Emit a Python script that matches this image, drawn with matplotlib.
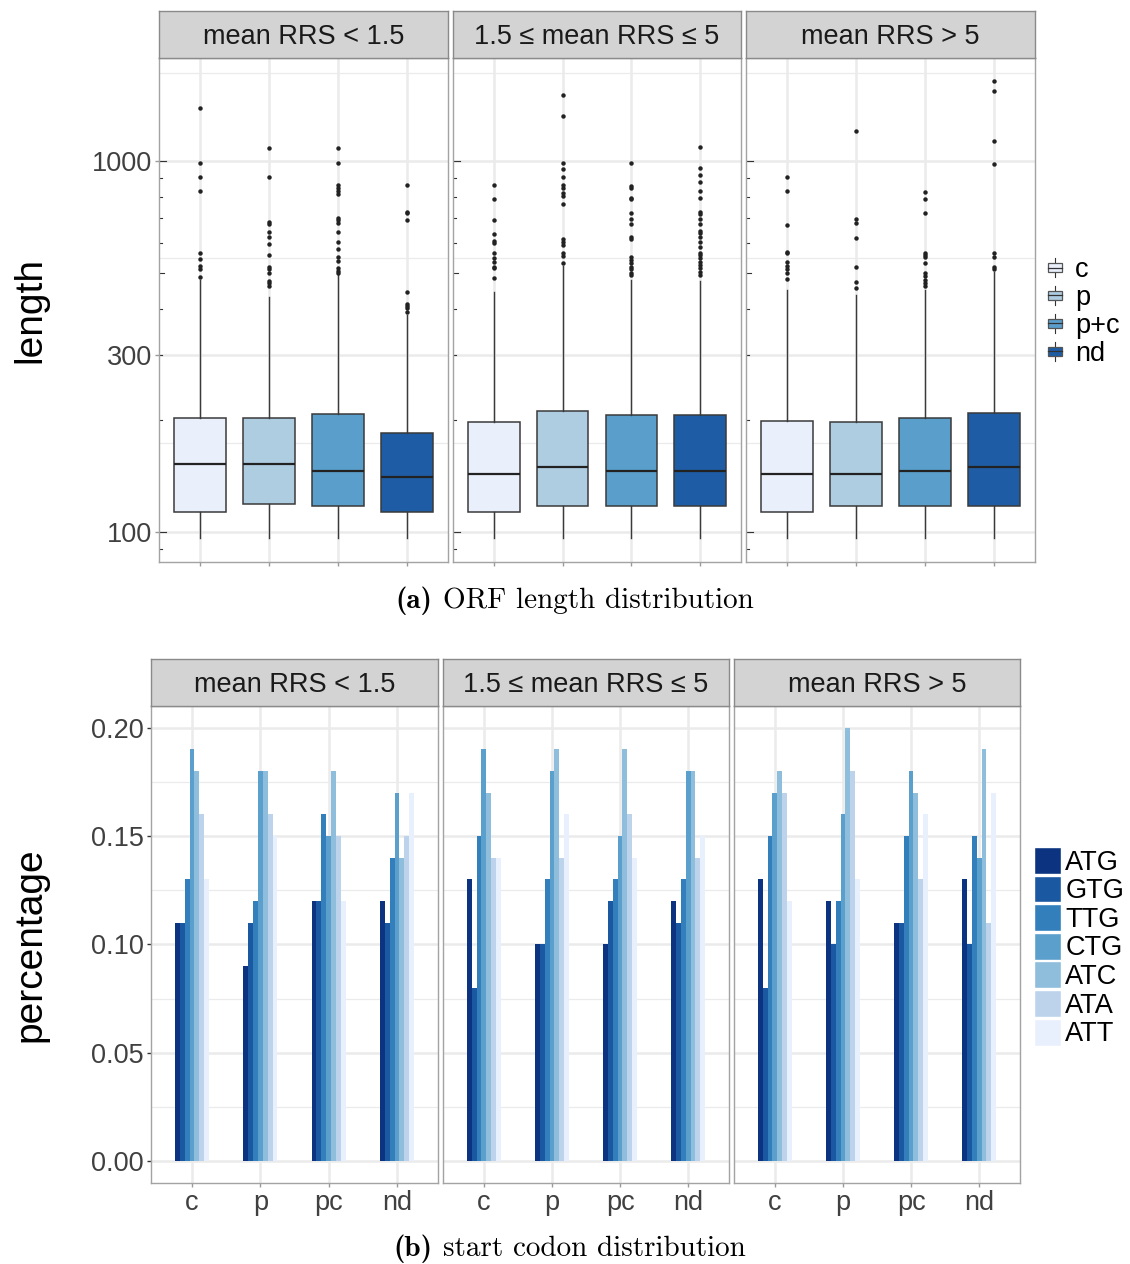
import numpy as np
import matplotlib
matplotlib.use("Agg")
import matplotlib.pyplot as plt
from matplotlib.patches import Rectangle, Patch
from matplotlib.lines import Line2D
from matplotlib.legend_handler import HandlerBase
from matplotlib.ticker import FixedLocator, NullFormatter

plt.rcParams['font.family'] = ['Liberation Sans', 'DejaVu Sans']

# facets and categories
rrs_groups = ['mean RRS < 1.5', '1.5 ≤ mean RRS ≤ 5', 'mean RRS > 5']
orf_types = ['c', 'p', 'p+c', 'nd']
orf_ticks = ['c', 'p', 'pc', 'nd']
codons = ['ATG', 'GTG', 'TTG', 'CTG', 'ATC', 'ATA', 'ATT']

# ORF length box statistics, one row per RRS group, one entry per ORF type
len_q1 = [[113, 119, 117, 113], [113, 117, 117, 117], [113, 117, 117, 117]]
len_med = [[152, 152, 146, 140], [143, 149, 146, 146], [143, 143, 146, 149]]
len_q3 = [[203, 203, 208, 185], [198, 212, 206, 206], [199, 198, 202, 209]]
len_whi = [[477, 430, 498, 385], [443, 521, 478, 476], [449, 434, 449, 503]]
len_wlo = [[96, 96, 96, 96], [96, 96, 96, 96], [96, 96, 96, 96]]
len_outliers = [
    [[1392, 986, 907, 829, 564, 544, 522, 512, 488],
     [1082, 907, 684, 676, 645, 623, 598, 559, 517, 511, 498, 476, 470, 460],
     [1086, 986, 862, 847, 830, 813, 702, 693, 679, 644, 605, 580, 552, 539,
      514, 506, 500],
     [860, 730, 723, 693, 443, 411, 407, 401, 392]],
    [[860, 791, 695, 636, 610, 600, 564, 547, 533, 519, 514, 483],
     [1506, 1322, 989, 950, 905, 860, 847, 821, 805, 766, 616, 606, 594, 564,
      554, 530],
     [986, 856, 844, 793, 788, 723, 697, 675, 622, 616, 552, 541, 530, 519,
      511, 500, 493],
     [1093, 956, 917, 876, 832, 793, 730, 720, 697, 676, 649, 641, 625, 606,
      587, 566, 558, 547, 535, 524, 514, 503, 493]],
    [[907, 830, 673, 569, 564, 533, 521, 511, 500, 482],
     [1205, 697, 679, 619, 519, 473, 454],
     [827, 788, 725, 564, 558, 550, 530, 498, 490, 478, 470, 460],
     [1646, 1547, 1134, 981, 564, 550, 519, 511]],
]

# start codon fractions [group][orf type][codon]
codon_frac = [
    [[0.11, 0.11, 0.13, 0.19, 0.18, 0.16, 0.13],
     [0.09, 0.11, 0.12, 0.18, 0.18, 0.16, 0.15],
     [0.12, 0.12, 0.16, 0.15, 0.18, 0.15, 0.12],
     [0.12, 0.11, 0.14, 0.17, 0.14, 0.15, 0.17]],
    [[0.13, 0.08, 0.15, 0.19, 0.17, 0.14, 0.14],
     [0.10, 0.10, 0.13, 0.18, 0.19, 0.14, 0.16],
     [0.10, 0.12, 0.13, 0.15, 0.19, 0.16, 0.14],
     [0.12, 0.11, 0.13, 0.18, 0.18, 0.14, 0.15]],
    [[0.13, 0.08, 0.15, 0.17, 0.18, 0.17, 0.12],
     [0.12, 0.10, 0.12, 0.16, 0.20, 0.18, 0.13],
     [0.11, 0.11, 0.15, 0.18, 0.17, 0.13, 0.16],
     [0.13, 0.10, 0.15, 0.14, 0.19, 0.11, 0.17]],
]

box_colors = ['#E9EFFB', '#AECDE1', '#5A9FCC', '#1E5DA5']
codon_colors = ['#0C3380', '#1B58A2', '#337FBC', '#5B9FCD', '#8FBEDD',
                '#BDD3EC', '#E9F0FD']

W, H = 1130, 1264
FS = 19.5
GRID = '#EBEBEB'
BORDER = '#A3A3A3'
TICKTXT = '#404040'


def fbox(x0, y0, x1, y1):
    return [x0 / W, 1 - y1 / H, (x1 - x0) / W, (y1 - y0) / H]


def add_strip(x0, y0, x1, y1, label):
    sax = fig.add_axes(fbox(x0, y0, x1, y1))
    sax.set_facecolor('#D3D3D3')
    sax.set_xticks([])
    sax.set_yticks([])
    for sp in sax.spines.values():
        sp.set_color('#8A8A8A')
        sp.set_linewidth(1.0)
    sax.text(0.5, 0.44, label, ha='center', va='center', fontsize=FS,
             color='#1A1A1A', transform=sax.transAxes)


def style_panel(ax):
    ax.set_axisbelow(True)
    for sp in ax.spines.values():
        sp.set_color(BORDER)
        sp.set_linewidth(1.0)
    ax.grid(which='major', color=GRID, lw=1.8)
    ax.grid(which='minor', axis='y', color=GRID, lw=0.9)
    ax.tick_params(which='major', length=3, color='#9A9A9A', width=1,
                   labelsize=FS, labelcolor=TICKTXT, pad=2)
    ax.tick_params(which='minor', length=0)


def caption(y, tag, text):
    # bold tag + roman text, set in Computer Modern
    fig.text(432 / W, 1 - y / H, tag, ha='right', va='baseline',
             fontsize=21, family='cmb10')
    fig.text(443 / W, 1 - y / H, text, ha='left', va='baseline',
             fontsize=21, family='cmr10')


class BoxKey(HandlerBase):
    # small boxplot glyph for the legend
    def create_artists(self, legend, orig_handle, xdescent, ydescent,
                       width, height, fontsize, trans):
        fc = orig_handle.get_facecolor()
        cx = -xdescent + width / 2
        cy = -ydescent + height / 2
        bw, bh, wh = 10.5, 6.5, 14.0
        whisk = Line2D([cx, cx], [cy - wh / 2, cy + wh / 2], color='#333333',
                       lw=0.8, transform=trans)
        box = Rectangle((cx - bw / 2, cy - bh / 2), bw, bh, facecolor=fc,
                        edgecolor='#555555', lw=0.9, transform=trans)
        med = Line2D([cx - bw / 2, cx + bw / 2], [cy, cy], color='#333333',
                     lw=0.9, transform=trans)
        return [whisk, box, med]


fig = plt.figure(figsize=(W / 100, H / 100), dpi=100)

# ---- (a) ORF length boxplots, log scale
top_x = [(159, 448), (453, 741), (746, 1035)]
log_ticks = [90, 100, 200, 300, 400, 500, 600, 700, 800, 900, 1000]
for g, (x0, x1) in enumerate(top_x):
    ax = fig.add_axes(fbox(x0, 58, x1, 562))
    stats = []
    for k in range(len(orf_types)):
        stats.append(dict(med=len_med[g][k], q1=len_q1[g][k], q3=len_q3[g][k],
                          whislo=len_wlo[g][k], whishi=len_whi[g][k],
                          fliers=len_outliers[g][k]))
    bp = ax.bxp(stats, positions=np.arange(1, 5), widths=0.75,
                patch_artist=True, showcaps=False,
                boxprops=dict(edgecolor='#3A3A3A', lw=1.1),
                medianprops=dict(color='#222222', lw=1.6),
                whiskerprops=dict(color='#3A3A3A', lw=1.0),
                flierprops=dict(marker='o', markersize=3.2,
                                markerfacecolor='#222222',
                                markeredgecolor='none'))
    for patch, c in zip(bp['boxes'], box_colors):
        patch.set_facecolor(c)
    ax.set_yscale('log')
    ax.yaxis.set_major_locator(FixedLocator([100, 300, 1000]))
    ax.yaxis.set_minor_locator(FixedLocator([173.2, 547.7, 1732]))
    ax.yaxis.set_minor_formatter(NullFormatter())
    ax.set_xticks(np.arange(1, 5))
    ax.set_xticklabels([])
    style_panel(ax)
    if g == 0:
        ax.set_yticklabels(['100', '300', '1000'])
    else:
        ax.tick_params(axis='y', which='major', length=0, labelleft=False)
    # log ticks along the left edge of each panel
    pw = x1 - x0
    for v in log_ticks:
        L = 7 if v in (100, 1000) else (5 if v == 500 else 3)
        ax.axhline(v, 0, L / pw, color='#333333', lw=0.8)
    ax.set_ylim(82.8, 1897)
    ax.set_xlim(0.4, 4.6)
    add_strip(x0, 11, x1, 58, rrs_groups[g])

fig.text(30 / W, 1 - 310 / H, 'length', rotation=90, ha='center',
         va='center', fontsize=28)

leg1 = fig.legend([Patch(facecolor=c) for c in box_colors], orf_types,
                  handler_map={Patch: BoxKey()},
                  loc='upper left', bbox_to_anchor=(1044 / W, 1 - 257 / H),
                  frameon=False, fontsize=FS, handlelength=0.8,
                  handleheight=0.8, handletextpad=0.35, labelspacing=0.07,
                  borderpad=0, borderaxespad=0)

# ---- (b) start codon bar charts
bot_x = [(151, 438), (443, 729), (734, 1020)]
n_cod = len(codons)
bw = 0.5 / n_cod
xpos = np.arange(1, 5)
for g, (x0, x1) in enumerate(bot_x):
    ax = fig.add_axes(fbox(x0, 706, x1, 1183))
    vals = np.array(codon_frac[g])
    for j in range(n_cod):
        ax.bar(xpos + (j - (n_cod - 1) / 2) * bw, vals[:, j], width=bw,
               color=codon_colors[j], linewidth=0)
    ax.set_ylim(-0.01, 0.21)
    ax.set_xlim(0.4, 4.6)
    ax.yaxis.set_major_locator(FixedLocator([0, 0.05, 0.10, 0.15, 0.20]))
    ax.yaxis.set_minor_locator(FixedLocator([0.025, 0.075, 0.125, 0.175]))
    ax.set_xticks(xpos)
    ax.set_xticklabels(orf_ticks)
    style_panel(ax)
    if g == 0:
        ax.set_yticklabels(['0.00', '0.05', '0.10', '0.15', '0.20'])
        ax.tick_params(axis='y', which='major', color='#333333')
    else:
        ax.tick_params(axis='y', which='major', length=0, labelleft=False)
    add_strip(x0, 659, x1, 706, rrs_groups[g])

fig.text(30 / W, 1 - 945 / H, 'percentage', rotation=90, ha='center',
         va='center', fontsize=28)

leg2 = fig.legend([Patch(facecolor=c, edgecolor='white', lw=1.0)
                   for c in codon_colors], codons,
                  loc='upper left', bbox_to_anchor=(1034 / W, 1 - 847 / H),
                  frameon=False, fontsize=FS, handlelength=1.0,
                  handleheight=1.15, handletextpad=0.15, labelspacing=0.0,
                  borderpad=0, borderaxespad=0)

# sub-captions
caption(608, '(a)', 'ORF length distribution')
caption(1256, '(b)', 'start codon distribution')

fig.savefig('out.png', dpi=100, facecolor='white')
